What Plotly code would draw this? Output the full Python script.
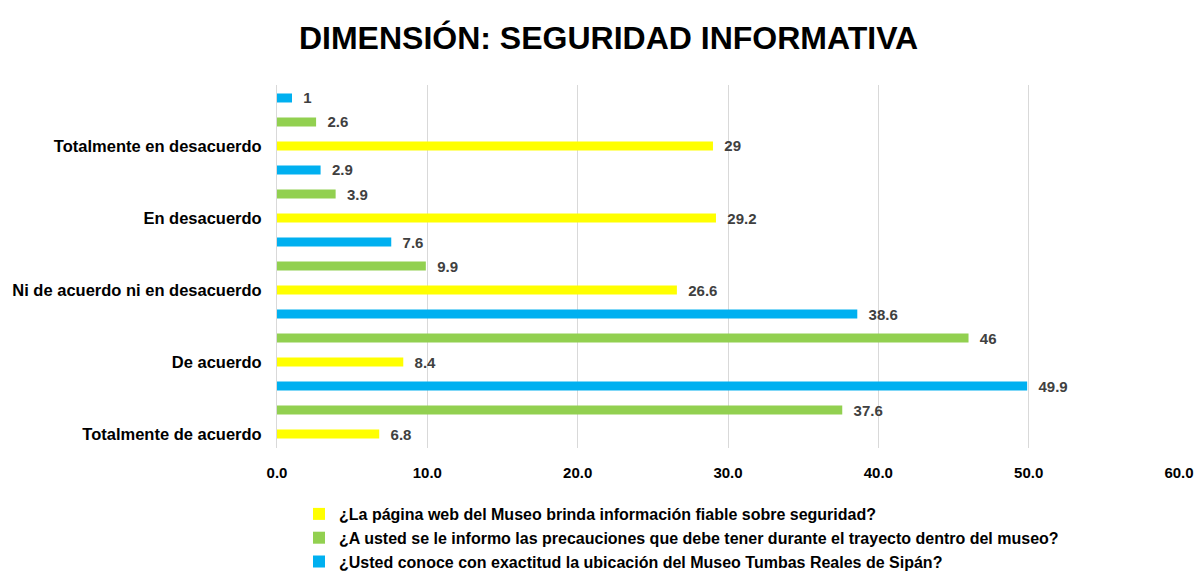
import plotly.graph_objects as go

categories = ["Totalmente de acuerdo", "De acuerdo", "Ni de acuerdo ni en desacuerdo",
              "En desacuerdo", "Totalmente en desacuerdo"]
series_names = [
    "¿La página web del Museo brinda información fiable sobre seguridad?",
    "¿A usted se le informo las precauciones que debe tener durante el trayecto dentro del museo?",
    "¿Usted conoce con exactitud la ubicación del Museo Tumbas Reales de Sipán?",
]
yellow_vals = [6.8, 8.4, 26.6, 29.2, 29.0]
green_vals = [37.6, 46.0, 9.9, 3.9, 2.6]
blue_vals = [49.9, 38.6, 7.6, 2.9, 1.0]
colors = ["#FFFF00", "#92D050", "#00B0F0"]
x_ticks = [0, 10, 20, 30, 40, 50, 60]

FONT = "Liberation Sans, Arial, sans-serif"

fig = go.Figure()
for k, (name, vals, col) in enumerate(zip(series_names, [yellow_vals, green_vals, blue_vals], colors)):
    ypos = [i + k / 3 for i in range(len(categories))]
    fig.add_trace(go.Bar(
        x=vals, y=ypos, orientation="h", name=name,
        marker=dict(color=col, line=dict(width=0)),
        width=0.125,
        text=["\u00a0\u00a0" + f"{v:g}" for v in vals], textposition="outside",
        constraintext="none",
        textfont=dict(family=FONT, size=15, color="#404040", weight="bold"),
        cliponaxis=False,
    ))

fig.update_layout(
    width=1198, height=572,
    barmode="overlay",
    paper_bgcolor="white", plot_bgcolor="white",
    margin=dict(l=277, r=19, t=85, b=124, autoexpand=False),
    title=dict(text="<b>DIMENSIÓN: SEGURIDAD INFORMATIVA</b>", x=0.508, xanchor="center",
               y=0.934, yanchor="middle",
               font=dict(family=FONT, size=32, color="black")),
    xaxis=dict(range=[0, 60], tickvals=x_ticks, ticktext=[f"{t:.1f}" for t in x_ticks],
               showgrid=True, gridcolor="#D9D9D9", gridwidth=1, zeroline=False,
               showline=False, ticks="", automargin=False, ticklabelstandoff=14,
               tickfont=dict(family=FONT, size=15, color="black", weight="bold")),
    yaxis=dict(range=[-0.194, 4.847], tickvals=list(range(len(categories))), ticktext=categories,
               showgrid=False, zeroline=False, showline=True, linecolor="#D9D9D9", linewidth=1,
               ticks="", ticklabelstandoff=11, automargin=False,
               tickfont=dict(family=FONT, size=16.5, color="black", weight="bold")),
    legend=dict(orientation="v", x=0.0244, xanchor="left", y=-0.135, yanchor="top",
                traceorder="normal",
                font=dict(family=FONT, size=16, color="black", weight="bold"),
                tracegroupgap=0, itemsizing="constant"),
    showlegend=True,
)

# remove the default 8px page margin so the 1198x572 figure fills the window exactly
fig.write_html("out.html", config={"displayModeBar": False},
               post_script="document.body.style.margin='0';")
